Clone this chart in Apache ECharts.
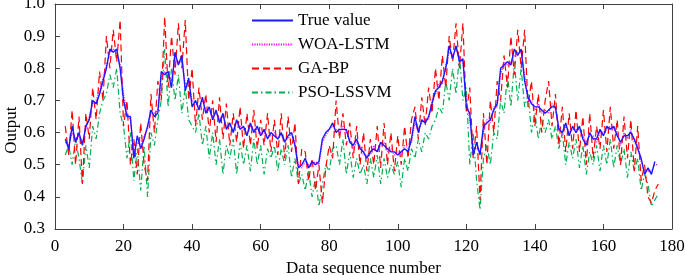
<!DOCTYPE html>
<html>
<head>
<meta charset="utf-8">
<script src="https://cdn.jsdelivr.net/npm/echarts@6/dist/echarts.min.js"></script>
<style>
  html, body { margin: 0; padding: 0; background: #fff; }
  #chart { width: 685px; height: 275px; }
</style>
</head>
<body>
<div id="chart"></div>
<script>
// sequence numbers start at 3
const xStart = 3;
const xTicks = [0, 20, 40, 60, 80, 100, 120, 140, 160, 180];
const yTicks = [0.3, 0.4, 0.5, 0.6, 0.7, 0.8, 0.9, 1.0];

const trueValue = [
  0.58, 0.55, 0.62, 0.57, 0.60, 0.56, 0.62, 0.64, 0.70, 0.69,
  0.72, 0.76, 0.80, 0.86, 0.85, 0.86, 0.80, 0.70, 0.65, 0.65,
  0.52, 0.59, 0.55, 0.58, 0.62, 0.67, 0.65, 0.66, 0.79, 0.78,
  0.79, 0.74, 0.85, 0.81, 0.84, 0.73, 0.77, 0.68, 0.70, 0.67,
  0.71, 0.66, 0.68, 0.64, 0.67, 0.63, 0.66, 0.61, 0.63, 0.60,
  0.64, 0.61, 0.62, 0.59, 0.63, 0.60, 0.62, 0.59, 0.61, 0.58,
  0.60, 0.59, 0.58, 0.60, 0.57, 0.59, 0.60, 0.56, 0.49, 0.50,
  0.52, 0.49, 0.51, 0.50, 0.51, 0.58, 0.60, 0.61, 0.63, 0.60,
  0.61, 0.61, 0.61, 0.57, 0.56, 0.58, 0.55, 0.54, 0.52, 0.54,
  0.55, 0.54, 0.57, 0.56, 0.55, 0.54, 0.54, 0.53, 0.54, 0.55,
  0.54, 0.58, 0.65, 0.60, 0.64, 0.63, 0.65, 0.69, 0.73, 0.74,
  0.76, 0.80, 0.87, 0.83, 0.87, 0.82, 0.83, 0.68, 0.66, 0.53,
  0.57, 0.53, 0.62, 0.63, 0.64, 0.67, 0.69, 0.80, 0.81, 0.82,
  0.81, 0.86, 0.84, 0.86, 0.76, 0.71, 0.69, 0.68, 0.68, 0.67,
  0.66, 0.67, 0.68, 0.68, 0.61, 0.60, 0.63, 0.59, 0.62, 0.60,
  0.62, 0.58, 0.56, 0.60, 0.58, 0.58, 0.61, 0.59, 0.62, 0.61,
  0.62, 0.59, 0.57, 0.59, 0.59, 0.60, 0.58, 0.55, 0.52, 0.47,
  0.49, 0.47, 0.51
];

const woaLstm = [
  0.57, 0.56, 0.60, 0.58, 0.59, 0.57, 0.61, 0.65, 0.69, 0.70,
  0.73, 0.77, 0.81, 0.85, 0.86, 0.85, 0.81, 0.72, 0.66, 0.64,
  0.54, 0.57, 0.56, 0.59, 0.61, 0.66, 0.66, 0.67, 0.77, 0.79,
  0.78, 0.76, 0.83, 0.82, 0.83, 0.75, 0.76, 0.70, 0.69, 0.68,
  0.70, 0.67, 0.67, 0.65, 0.66, 0.64, 0.65, 0.62, 0.62, 0.61,
  0.63, 0.62, 0.61, 0.60, 0.62, 0.61, 0.61, 0.60, 0.60, 0.59,
  0.59, 0.60, 0.58, 0.59, 0.58, 0.58, 0.60, 0.57, 0.50, 0.49,
  0.51, 0.50, 0.50, 0.51, 0.50, 0.57, 0.59, 0.61, 0.62, 0.61,
  0.60, 0.62, 0.60, 0.58, 0.55, 0.57, 0.56, 0.53, 0.53, 0.53,
  0.56, 0.54, 0.56, 0.57, 0.54, 0.55, 0.53, 0.54, 0.53, 0.56,
  0.55, 0.57, 0.63, 0.61, 0.63, 0.64, 0.64, 0.70, 0.72, 0.75,
  0.75, 0.81, 0.85, 0.84, 0.86, 0.83, 0.82, 0.70, 0.64, 0.55,
  0.55, 0.54, 0.60, 0.64, 0.63, 0.68, 0.68, 0.78, 0.82, 0.81,
  0.82, 0.84, 0.85, 0.85, 0.78, 0.70, 0.70, 0.67, 0.69, 0.66,
  0.67, 0.66, 0.69, 0.67, 0.62, 0.59, 0.62, 0.60, 0.61, 0.61,
  0.61, 0.59, 0.57, 0.59, 0.59, 0.57, 0.60, 0.60, 0.61, 0.62,
  0.61, 0.60, 0.56, 0.60, 0.58, 0.61, 0.57, 0.56, 0.51, 0.48,
  0.48, 0.48, 0.50, 0.50
];

const gaBp = [
  0.62, 0.53, 0.67, 0.50, 0.65, 0.44, 0.66, 0.58, 0.74, 0.64,
  0.79, 0.70, 0.90, 0.80, 0.92, 0.82, 0.95, 0.62, 0.70, 0.50,
  0.58, 0.47, 0.63, 0.50, 0.45, 0.72, 0.60, 0.76, 0.70, 0.96,
  0.74, 0.90, 0.78, 0.94, 0.80, 0.95, 0.70, 0.80, 0.62, 0.74,
  0.64, 0.72, 0.60, 0.70, 0.57, 0.71, 0.58, 0.69, 0.56, 0.66,
  0.57, 0.68, 0.55, 0.66, 0.56, 0.67, 0.55, 0.64, 0.56, 0.66,
  0.54, 0.64, 0.53, 0.66, 0.52, 0.65, 0.54, 0.63, 0.44, 0.55,
  0.54, 0.45, 0.52, 0.42, 0.50, 0.38, 0.49, 0.56, 0.52, 0.70,
  0.58, 0.66, 0.56, 0.63, 0.52, 0.62, 0.50, 0.60, 0.48, 0.58,
  0.50, 0.62, 0.49, 0.63, 0.50, 0.60, 0.48, 0.59, 0.50, 0.62,
  0.52, 0.64, 0.68, 0.58, 0.71, 0.62, 0.74, 0.66, 0.80, 0.70,
  0.84, 0.74, 0.90, 0.82, 0.94, 0.80, 0.94, 0.66, 0.74, 0.52,
  0.62, 0.39, 0.66, 0.50, 0.70, 0.60, 0.76, 0.70, 0.84, 0.74,
  0.90, 0.78, 0.92, 0.80, 0.92, 0.68, 0.76, 0.62, 0.72, 0.60,
  0.70, 0.76, 0.62, 0.72, 0.56, 0.68, 0.54, 0.66, 0.55, 0.67,
  0.54, 0.65, 0.50, 0.66, 0.52, 0.62, 0.55, 0.67, 0.54, 0.68,
  0.55, 0.64, 0.50, 0.65, 0.52, 0.64, 0.48, 0.62, 0.45, 0.50,
  0.40, 0.38, 0.42, 0.44
];

const psoLssvm = [
  0.53, 0.56, 0.50, 0.58, 0.52, 0.44, 0.56, 0.49, 0.62, 0.58,
  0.66, 0.70, 0.72, 0.78, 0.74, 0.80, 0.66, 0.62, 0.52, 0.60,
  0.45, 0.55, 0.42, 0.56, 0.40, 0.60, 0.56, 0.64, 0.70, 0.86,
  0.68, 0.80, 0.70, 0.78, 0.66, 0.74, 0.64, 0.62, 0.60, 0.66,
  0.56, 0.62, 0.52, 0.60, 0.50, 0.58, 0.47, 0.56, 0.52, 0.58,
  0.47, 0.57, 0.50, 0.56, 0.48, 0.58, 0.50, 0.56, 0.47, 0.55,
  0.52, 0.56, 0.48, 0.55, 0.50, 0.56, 0.46, 0.52, 0.44, 0.47,
  0.42, 0.48, 0.40, 0.46, 0.37, 0.44, 0.50, 0.48, 0.55, 0.56,
  0.50, 0.58, 0.47, 0.54, 0.46, 0.52, 0.47, 0.50, 0.44, 0.52,
  0.46, 0.53, 0.44, 0.52, 0.46, 0.50, 0.47, 0.51, 0.43, 0.52,
  0.48, 0.55, 0.52, 0.58, 0.54, 0.60, 0.58, 0.62, 0.64, 0.68,
  0.66, 0.76, 0.70, 0.80, 0.72, 0.84, 0.70, 0.74, 0.50, 0.60,
  0.45, 0.36, 0.52, 0.56, 0.50, 0.60, 0.58, 0.70, 0.66, 0.78,
  0.68, 0.82, 0.70, 0.80, 0.68, 0.72, 0.60, 0.66, 0.58, 0.64,
  0.60, 0.64, 0.58, 0.62, 0.55, 0.60, 0.50, 0.57, 0.52, 0.58,
  0.49, 0.56, 0.47, 0.54, 0.50, 0.56, 0.48, 0.56, 0.50, 0.58,
  0.49, 0.56, 0.50, 0.55, 0.46, 0.54, 0.48, 0.52, 0.42, 0.47,
  0.44, 0.37, 0.39, 0.41
];

const seriesNames = ['True value', 'WOA-LSTM', 'GA-BP', 'PSO-LSSVM'];

function toPairs(values) {
  return values.map((v, i) => [xStart + i, v]);
}

const font = 'Liberation Serif';
const axisColor = '#404040';
const legendText = { fontFamily: font, fontSize: 17, color: '#000' };

const chart = echarts.init(document.getElementById('chart'), null, { renderer: 'canvas' });

chart.setOption({
  animation: false,
  backgroundColor: '#fff',
  textStyle: { fontFamily: font },
  grid: { left: 55, right: 13, top: 4, bottom: 46, containLabel: false, outerBoundsMode: 'none' },
  legend: {
    orient: 'vertical',
    left: 251,
    top: 12,
    padding: 0,
    itemWidth: 41,
    itemHeight: 16,
    itemGap: 7,
    data: seriesNames.map((name) => ({ name, textStyle: legendText })),
    itemStyle: { opacity: 0 },
    textStyle: legendText
  },
  xAxis: [
    {
      type: 'value',
      min: xTicks[0],
      max: xTicks[xTicks.length - 1],
      interval: 20,
      name: 'Data sequence number',
      nameLocation: 'middle',
      nameGap: 28,
      nameTextStyle: { fontFamily: font, fontSize: 17, color: '#000' },
      axisLine: { onZero: false, lineStyle: { color: axisColor, width: 1 } },
      axisTick: { inside: true, length: 5, lineStyle: { color: axisColor } },
      axisLabel: { fontFamily: font, fontSize: 17, color: '#000', margin: 9 },
      splitLine: { show: false }
    },
    {
      type: 'value',
      position: 'top',
      min: xTicks[0],
      max: xTicks[xTicks.length - 1],
      interval: 20,
      axisLine: { onZero: false, lineStyle: { color: axisColor, width: 1 } },
      axisTick: { inside: true, length: 5, lineStyle: { color: axisColor } },
      axisLabel: { show: false },
      splitLine: { show: false }
    }
  ],
  yAxis: [
    {
      type: 'value',
      min: yTicks[0],
      max: yTicks[yTicks.length - 1],
      interval: 0.1,
      name: 'Output',
      nameLocation: 'middle',
      nameGap: 35,
      nameMoveOverlap: false,
      nameTextStyle: { fontFamily: font, fontSize: 17, color: '#000', align: 'right', padding: [0, -10, 0, 0] },
      axisLine: { show: true, onZero: false, lineStyle: { color: axisColor, width: 1 } },
      axisTick: { show: true, inside: true, length: 5, lineStyle: { color: axisColor } },
      axisLabel: {
        fontFamily: font,
        fontSize: 17,
        color: '#000',
        margin: 10,
        formatter: (v) => v.toFixed(1)
      },
      splitLine: { show: false }
    },
    {
      type: 'value',
      position: 'right',
      min: yTicks[0],
      max: yTicks[yTicks.length - 1],
      interval: 0.1,
      axisLine: { show: true, onZero: false, lineStyle: { color: axisColor, width: 1 } },
      axisTick: { show: false },
      axisLabel: { show: false },
      splitLine: { show: false }
    }
  ],
  series: [
    {
      name: 'PSO-LSSVM',
      type: 'line',
      data: toPairs(psoLssvm),
      symbol: 'none',
      z: 2,
      lineStyle: { color: '#00b050', width: 1.2, type: [6, 3, 1.5, 3] },
      itemStyle: { color: '#00b050' }
    },
    {
      name: 'GA-BP',
      type: 'line',
      data: toPairs(gaBp),
      symbol: 'none',
      z: 3,
      lineStyle: { color: '#ff0000', width: 1.2, type: [7, 4] },
      itemStyle: { color: '#ff0000' }
    },
    {
      name: 'WOA-LSTM',
      type: 'line',
      data: toPairs(woaLstm),
      symbol: 'none',
      z: 4,
      lineStyle: { color: '#ff00ff', width: 1.2, type: [1.2, 1.2] },
      itemStyle: { color: '#ff00ff' }
    },
    {
      name: 'True value',
      type: 'line',
      data: toPairs(trueValue),
      symbol: 'none',
      z: 5,
      lineStyle: { color: '#1a1aff', width: 1.4 },
      itemStyle: { color: '#1a1aff' }
    }
  ]
});
</script>
</body>
</html>
